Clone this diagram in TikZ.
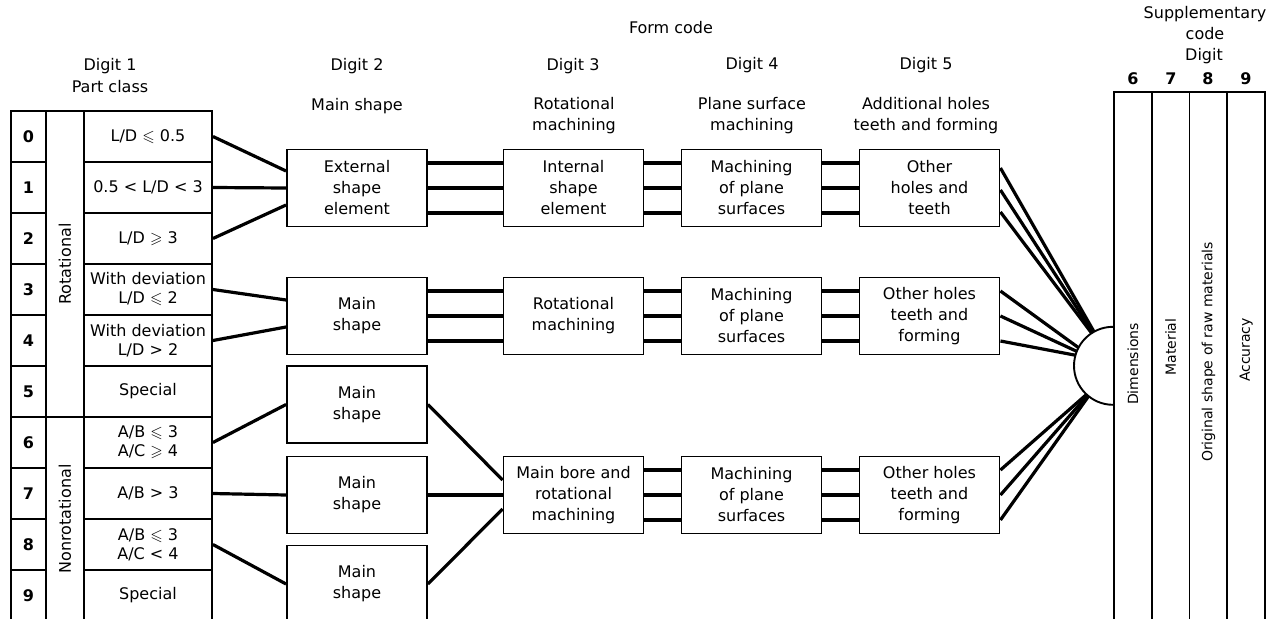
\documentclass[tikz,border=0pt]{standalone}
\usepackage{amssymb}
\usepackage{fontspec}
\setmainfont{DejaVu Sans}
\begin{document}
\begin{tikzpicture}[x=1pt, y=-1pt,
  font=\fontsize{16}{21}\selectfont,
  cell/.style={draw, line width=1.9pt, minimum height=51pt, inner sep=1pt, align=center, font=\fontsize{16}{19}\selectfont},
  box/.style={draw, line width=1.9pt, minimum width=140pt, minimum height=77pt, inner sep=2pt, align=center},
  strip/.style={draw, line width=1.9pt, minimum width=37.75pt, minimum height=548pt, inner sep=0pt},
  vlabel/.style={inner sep=0pt, font=\fontsize{14}{16}\selectfont},
  head/.style={align=center, inner sep=0pt},
  link/.style={line width=3.2pt}]

\useasboundingbox ( 0, 0 ) rectangle ( 1268, 618 );
\clip ( 0, 0 ) rectangle ( 1268, 618 );

%% Headings
\node (form) at ( 671, 28 ) [head] {Form code};
\node (dig1) at ( 110, 66 ) [head] {Digit 1};
\node (part) at ( 110, 87 ) [head] {Part class};
\node (dig2) at ( 357, 66 ) [head] {Digit 2};
\node (dig3) at ( 573, 66 ) [head] {Digit 3};
\node (dig4) at ( 752, 65 ) [head] {Digit 4};
\node (dig5) at ( 926, 65 ) [head] {Digit 5};
\node (hmain) at ( 357, 106 ) [head] {Main shape};
\node (hrot) at ( 574, 116 ) [head] {Rotational\\machining};
\node (hplane) at ( 752, 116 ) [head] {Plane surface\\machining};
\node (hadd) at ( 926, 116 ) [head] {Additional holes\\teeth and forming};
\node (hsupp) at ( 1205, 23 ) [head] {Supplementary\\code};
\node (hdig) at ( 1204, 56 ) [head] {Digit};
\node (n6) at ( 1133, 79 ) [head] {\bfseries 6};
\node (n7) at ( 1171, 79 ) [head] {\bfseries 7};
\node (n8) at ( 1208, 79 ) [head] {\bfseries 8};
\node (n9) at ( 1246, 79 ) [head] {\bfseries 9};

%% Part class table
% Digit column
\node (d0) at ( 28.5, 136.5 ) [cell, minimum width=35pt] {\bfseries 0};
\node (d1) at ( 28.5, 187.5 ) [cell, minimum width=35pt] {\bfseries 1};
\node (d2) at ( 28.5, 238.5 ) [cell, minimum width=35pt] {\bfseries 2};
\node (d3) at ( 28.5, 289.5 ) [cell, minimum width=35pt] {\bfseries 3};
\node (d4) at ( 28.5, 340.5 ) [cell, minimum width=35pt] {\bfseries 4};
\node (d5) at ( 28.5, 391.5 ) [cell, minimum width=35pt] {\bfseries 5};
\node (d6) at ( 28.5, 442.5 ) [cell, minimum width=35pt] {\bfseries 6};
\node (d7) at ( 28.5, 493.5 ) [cell, minimum width=35pt] {\bfseries 7};
\node (d8) at ( 28.5, 544.5 ) [cell, minimum width=35pt] {\bfseries 8};
\node (d9) at ( 28.5, 595.5 ) [cell, minimum width=35pt] {\bfseries 9};

% Groups
\node (rot) at ( 65, 264 ) [cell, minimum width=38pt, minimum height=306pt] {\rotatebox{90}{Rotational}};
\node (nonrot) at ( 65, 519 ) [cell, minimum width=38pt, minimum height=204pt] {\rotatebox{90}{Nonrotational}};

% Conditions
\node (c0) at ( 148, 136.5 ) [cell, minimum width=128pt] {L/D $\leqslant$ 0.5};
\node (c1) at ( 148, 187.5 ) [cell, minimum width=128pt] {0.5 < L/D < 3};
\node (c2) at ( 148, 238.5 ) [cell, minimum width=128pt] {L/D $\geqslant$ 3};
\node (c3) at ( 148, 289.5 ) [cell, minimum width=128pt] {With deviation\\L/D $\leqslant$ 2};
\node (c4) at ( 148, 340.5 ) [cell, minimum width=128pt] {With deviation\\L/D > 2};
\node (c5) at ( 148, 391.5 ) [cell, minimum width=128pt] {Special};
\node (c6) at ( 148, 442.5 ) [cell, minimum width=128pt] {A/B $\leqslant$ 3\\A/C $\geqslant$ 4};
\node (c7) at ( 148, 493.5 ) [cell, minimum width=128pt] {A/B > 3};
\node (c8) at ( 148, 544.5 ) [cell, minimum width=128pt] {A/B $\leqslant$ 3\\A/C < 4};
\node (c9) at ( 148, 595.5 ) [cell, minimum width=128pt] {Special};

%% Digit 2
\node (ext) at ( 357, 188 ) [box] {External\\shape\\element};
\node (main2) at ( 357, 316 ) [box] {Main\\shape};
\node (mainA) at ( 357, 404.5 ) [box] {Main\\shape};
\node (mainB) at ( 357, 495 ) [box] {Main\\shape};
\node (mainC) at ( 357, 584 ) [box] {Main\\shape};

%% Digit 3
\node (int) at ( 573.5, 188 ) [box] {Internal\\shape\\element};
\node (rotm) at ( 573.5, 316 ) [box] {Rotational\\machining};
\node (bore) at ( 573.5, 495 ) [box] {Main bore and\\rotational\\machining};

%% Digit 4
\node (pl1) at ( 751.5, 188 ) [box] {Machining\\of plane\\surfaces};
\node (pl2) at ( 751.5, 316 ) [box] {Machining\\of plane\\surfaces};
\node (pl3) at ( 751.5, 495 ) [box] {Machining\\of plane\\surfaces};

%% Digit 5
\node (oth1) at ( 929.5, 188 ) [box] {Other\\holes and\\teeth};
\node (oth2) at ( 929.5, 316 ) [box] {Other holes\\teeth and\\forming};
\node (oth3) at ( 929.5, 495 ) [box] {Other holes\\teeth and\\forming};

%% Supplementary code
\node (dimcol) at ( 1132.9, 366 ) [strip] {};
\node (matcol) at ( 1170.6, 366 ) [strip] {};
\node (rawcol) at ( 1208.4, 366 ) [strip] {};
\node (acccol) at ( 1246.1, 366 ) [strip] {};
\node (dim) at ( 1132.9, 364 ) [vlabel] {\rotatebox{90}{Dimensions}};
\node (mat) at ( 1170.6, 347 ) [vlabel] {\rotatebox{90}{Material}};
\node (raw) at ( 1208.4, 352 ) [vlabel] {\rotatebox{90}{Original shape of raw materials}};
\node (acc) at ( 1246.1, 350 ) [vlabel] {\rotatebox{90}{Accuracy}};

\node (hub) at ( 1113, 366 ) [circle, minimum size=78pt, inner sep=0pt] {};
\draw [line width=1.9pt] (hub.north) arc [start angle=90, end angle=270, radius=39pt];

%% Links
% Part class to main shape
\draw [link] (c0.east) -- ([yshift=17pt]ext.west);
\draw [link] (c1.east) -- (ext.west);
\draw [link] (c2.east) -- ([yshift=-17pt]ext.west);
\draw [link] (c3.east) -- ([yshift=16pt]main2.west);
\draw [link] (c4.east) -- ([yshift=-11pt]main2.west);
\draw [link] (c6.east) -- (mainA.west);
\draw [link] (c7.east) -- (mainB.west);
\draw [link] (c8.east) -- (mainC.west);

% Main shape to digit 3
\draw [link] ([yshift=25pt]ext.east) -- ([yshift=25pt]int.west);
\draw [link] (ext.east) -- (int.west);
\draw [link] ([yshift=-25pt]ext.east) -- ([yshift=-25pt]int.west);
\draw [link] ([yshift=25pt]main2.east) -- ([yshift=25pt]rotm.west);
\draw [link] (main2.east) -- (rotm.west);
\draw [link] ([yshift=-25pt]main2.east) -- ([yshift=-25pt]rotm.west);
\draw [link] (mainA.east) -- ([yshift=15pt]bore.west);
\draw [link] (mainB.east) -- (bore.west);
\draw [link] (mainC.east) -- ([yshift=-14pt]bore.west);

% Digit 3 to digit 4
\draw [link] ([yshift=25pt]int.east) -- ([yshift=25pt]pl1.west);
\draw [link] (int.east) -- (pl1.west);
\draw [link] ([yshift=-25pt]int.east) -- ([yshift=-25pt]pl1.west);
\draw [link] ([yshift=25pt]rotm.east) -- ([yshift=25pt]pl2.west);
\draw [link] (rotm.east) -- (pl2.west);
\draw [link] ([yshift=-25pt]rotm.east) -- ([yshift=-25pt]pl2.west);
\draw [link] ([yshift=25pt]bore.east) -- ([yshift=25pt]pl3.west);
\draw [link] (bore.east) -- (pl3.west);
\draw [link] ([yshift=-25pt]bore.east) -- ([yshift=-25pt]pl3.west);

% Digit 4 to digit 5
\draw [link] ([yshift=25pt]pl1.east) -- ([yshift=25pt]oth1.west);
\draw [link] (pl1.east) -- (oth1.west);
\draw [link] ([yshift=-25pt]pl1.east) -- ([yshift=-25pt]oth1.west);
\draw [link] ([yshift=25pt]pl2.east) -- ([yshift=25pt]oth2.west);
\draw [link] (pl2.east) -- (oth2.west);
\draw [link] ([yshift=-25pt]pl2.east) -- ([yshift=-25pt]oth2.west);
\draw [link] ([yshift=25pt]pl3.east) -- ([yshift=25pt]oth3.west);
\draw [link] (pl3.east) -- (oth3.west);
\draw [link] ([yshift=-25pt]pl3.east) -- ([yshift=-25pt]oth3.west);

% Digit 5 to supplementary code
\draw [link] ([yshift=20pt]oth1.east) -- (hub.119);
\draw [link] ([yshift=-2pt]oth1.east) -- (hub.121);
\draw [link] ([yshift=-24pt]oth1.east) -- (hub.123);
\draw [link] ([yshift=25pt]oth2.east) -- (hub.152);
\draw [link] (oth2.east) -- (hub.158);
\draw [link] ([yshift=-25pt]oth2.east) -- (hub.164);
\draw [link] ([yshift=25pt]oth3.east) -- (hub.227);
\draw [link] (oth3.east) -- (hub.229);
\draw [link] ([yshift=-25pt]oth3.east) -- (hub.231);

\end{tikzpicture}
\end{document}
